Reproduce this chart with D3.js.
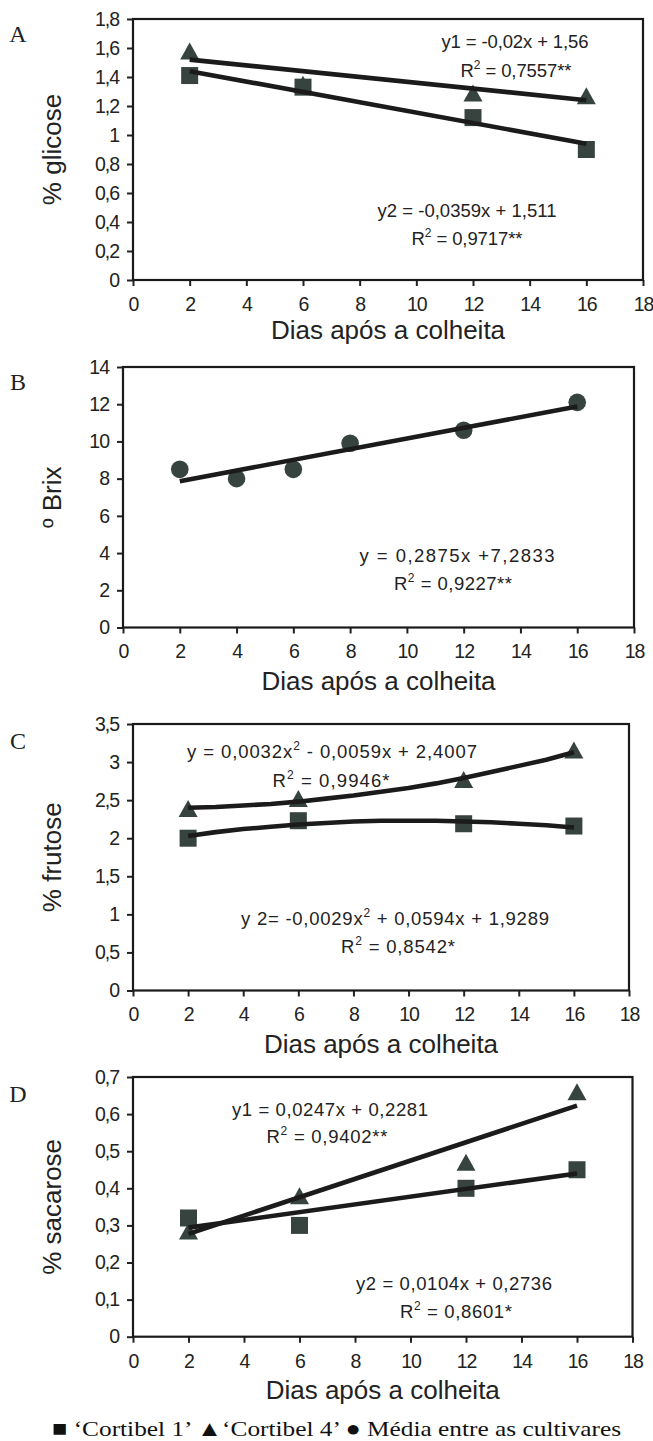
<!DOCTYPE html>
<html>
<head>
<meta charset="utf-8">
<script src="https://cdn.jsdelivr.net/npm/d3@7"></script>
<style>
  html, body { margin: 0; padding: 0; background: #fff; }
  svg { display: block; }
  .tick text { font-family: "Liberation Sans", Arial, sans-serif; font-size: 19.5px; letter-spacing: -1px; fill: #222; }
  .eq { font-family: "Liberation Sans", Arial, sans-serif; font-size: 18.5px; fill: #222; }
  .title { font-family: "Liberation Sans", Arial, sans-serif; font-size: 26px; fill: #222; }
  .letter { font-family: "Liberation Serif", "Times New Roman", serif; font-size: 24px; fill: #222; }
  .legend { font-family: "Liberation Serif", "Times New Roman", serif; font-size: 22px; fill: #111; }
</style>
</head>
<body>
<div id="chart"></div>
<script>
// days after harvest, shared x ticks
const xTicks = [0, 2, 4, 6, 8, 10, 12, 14, 16, 18];
const days = [2, 6, 12, 16];

// A - glicose
const glicoseC1 = [1.41, 1.33, 1.12, 0.90];
const glicoseC4 = [1.58, 1.35, 1.29, 1.27];
const glicoseTrendC1 = [1.44, 0.94];
const glicoseTrendC4 = [1.52, 1.24];
const glicoseTicks = [0, 0.2, 0.4, 0.6, 0.8, 1, 1.2, 1.4, 1.6, 1.8];

// B - brix (mean of cultivars)
const brixDays = [2, 4, 6, 8, 12, 16];
const brixMedia = [8.5, 8.0, 8.5, 9.9, 10.6, 12.1];
const brixTrend = [7.86, 11.88];
const brixTicks = [0, 2, 4, 6, 8, 10, 12, 14];

// C - frutose (quadratic trend)
const frutoseC1 = [2.00, 2.23, 2.19, 2.16];
const frutoseC4 = [2.39, 2.52, 2.77, 3.16];
const trendDays = [2, 3, 4, 5, 6, 7, 8, 9, 10, 11, 12, 13, 14, 15, 16];
const frutoseTrendC1 = [2.03, 2.08, 2.12, 2.15, 2.18, 2.20, 2.22, 2.23, 2.23, 2.23, 2.22, 2.21, 2.19, 2.17, 2.14];
const frutoseTrendC4 = [2.40, 2.41, 2.43, 2.45, 2.48, 2.52, 2.56, 2.61, 2.66, 2.72, 2.79, 2.87, 2.95, 3.03, 3.13];
const frutoseTicks = [0, 0.5, 1, 1.5, 2, 2.5, 3, 3.5];

// D - sacarose
const sacaroseC1 = [0.32, 0.30, 0.40, 0.45];
const sacaroseC4 = [0.285, 0.38, 0.47, 0.66];
const sacaroseTrendC1 = [0.294, 0.440];
const sacaroseTrendC4 = [0.277, 0.623];
const sacaroseTicks = [0, 0.1, 0.2, 0.3, 0.4, 0.5, 0.6, 0.7];

const W = 653, H = 1441;
const markerFill = "#37433f";
const lineColor = "#1b1b1b";

const svg = d3.select("#chart").append("svg")
    .attr("width", W).attr("height", H)
    .attr("viewBox", [0, 0, W, H]);
svg.append("rect").attr("width", W).attr("height", H).attr("fill", "#fff");

const fmt = v => String(+v.toFixed(2)).replace(".", ",");

/**
 * One panel: frame, axes, markers, trend lines and the texts.
 */
function panel(p) {
    const x = d3.scaleLinear().domain([0, 18]).range([p.left, p.right]);
    const y = d3.scaleLinear().domain([0, p.yMax]).range([p.bottom, p.top]);
    const g = svg.append("g");

    g.append("g")
        .attr("transform", `translate(0,${p.bottom})`)
        .call(d3.axisBottom(x).tickValues(xTicks).tickFormat(fmt).tickSize(6).tickSizeOuter(0).tickPadding(11))
        .call(a => a.select(".domain").remove())
        .call(a => a.selectAll("line").attr("stroke", "#222").attr("stroke-width", 2));

    g.append("g")
        .attr("transform", `translate(${p.left},0)`)
        .call(d3.axisLeft(y).tickValues(p.yTicks).tickFormat(fmt).tickSize(6).tickSizeOuter(0).tickPadding(8))
        .call(a => a.select(".domain").remove())
        .call(a => a.selectAll("line").attr("stroke", "#222").attr("stroke-width", 2));

    g.append("rect")
        .attr("x", p.left).attr("y", p.top)
        .attr("width", p.right - p.left).attr("height", p.bottom - p.top)
        .attr("fill", "none").attr("stroke", "#1a1a1a").attr("stroke-width", 2.2);

    // markers
    (p.triangles || []).forEach(s => {
        g.append("g").selectAll("path").data(s.x.map((d, i) => [d, s.y[i]])).join("path")
            .attr("d", d => { const cx = x(d[0]), cy = y(d[1]);
                return `M${cx},${cy - 8.5}L${cx + 9.5},${cy + 8.5}L${cx - 9.5},${cy + 8.5}Z`; })
            .attr("fill", markerFill);
    });
    (p.squares || []).forEach(s => {
        g.append("g").selectAll("rect").data(s.x.map((d, i) => [d, s.y[i]])).join("rect")
            .attr("x", d => x(d[0]) - 8.5).attr("y", d => y(d[1]) - 8.5)
            .attr("width", 17).attr("height", 17)
            .attr("fill", markerFill);
    });
    (p.circles || []).forEach(s => {
        g.append("g").selectAll("circle").data(s.x.map((d, i) => [d, s.y[i]])).join("circle")
            .attr("cx", d => x(d[0])).attr("cy", d => y(d[1])).attr("r", 8.8)
            .attr("fill", markerFill);
    });

    // trend lines on top
    const line = d3.line().x(d => x(d[0])).y(d => y(d[1]));
    p.trends.forEach(t => {
        g.append("path")
            .datum(t.x.map((d, i) => [d, t.y[i]]))
            .attr("d", line)
            .attr("fill", "none").attr("stroke", lineColor)
            .attr("stroke-width", 4.6).attr("stroke-linejoin", "round");
    });

    // equations: [before, superscript, after]
    p.eqs.forEach(e => {
        const t = g.append("text").attr("class", "eq")
            .attr("x", e.x).attr("y", e.y)
            .attr("text-anchor", "middle")
            .attr("textLength", e.w).attr("lengthAdjust", "spacing");
        t.append("tspan").text(e.t[0]);
        if (e.t[1]) {
            t.append("tspan").text(e.t[1]).attr("font-size", "12px").attr("dy", -8);
            t.append("tspan").text(e.t[2]).attr("dy", 8);
        }
    });

    // letter
    g.append("text").attr("class", "letter").attr("x", 18).attr("y", p.letterY)
        .attr("text-anchor", "middle").text(p.letter);

    // axis titles
    g.append("text").attr("class", "title")
        .attr("transform", `translate(61,${(p.top + p.bottom) / 2}) rotate(-90)`)
        .attr("text-anchor", "middle").text(p.yTitle);
    g.append("text").attr("class", "title")
        .attr("x", (p.left + p.right) / 2).attr("y", p.xTitleY)
        .attr("text-anchor", "middle").text("Dias após a colheita");
}

panel({
    left: 133, right: 643, top: 19, bottom: 280, yMax: 1.8, yTicks: glicoseTicks,
    letter: "A", letterY: 42, yTitle: "% glicose", xTitleY: 339,
    triangles: [{ x: days, y: glicoseC4 }],
    squares: [{ x: days, y: glicoseC1 }],
    trends: [{ x: [2, 16], y: glicoseTrendC4 }, { x: [2, 16], y: glicoseTrendC1 }],
    eqs: [
        { x: 515, y: 48, w: 147, t: ["y1 = -0,02x + 1,56"] },
        { x: 516, y: 77, w: 111, t: ["R", "2", " = 0,7557**"] },
        { x: 467, y: 217, w: 179, t: ["y2 = -0,0359x + 1,511"] },
        { x: 467, y: 245, w: 111, t: ["R", "2", " = 0,9717**"] }
    ]
});

panel({
    left: 123, right: 634, top: 367, bottom: 627.5, yMax: 14, yTicks: brixTicks,
    letter: "B", letterY: 390, yTitle: "º Brix", xTitleY: 690,
    circles: [{ x: brixDays, y: brixMedia }],
    trends: [{ x: [2, 16], y: brixTrend }],
    eqs: [
        { x: 457, y: 562, w: 195, t: ["y = 0,2875x +7,2833"] },
        { x: 453, y: 590, w: 118, t: ["R", "2", " = 0,9227**"] }
    ]
});

panel({
    left: 133, right: 629, top: 724, bottom: 990.5, yMax: 3.5, yTicks: frutoseTicks,
    letter: "C", letterY: 749, yTitle: "% frutose", xTitleY: 1053,
    triangles: [{ x: days, y: frutoseC4 }],
    squares: [{ x: days, y: frutoseC1 }],
    trends: [{ x: trendDays, y: frutoseTrendC4 }, { x: trendDays, y: frutoseTrendC1 }],
    eqs: [
        { x: 332, y: 758, w: 290, t: ["y = 0,0032x", "2", " - 0,0059x + 2,4007"] },
        { x: 331, y: 787, w: 117, t: ["R", "2", " = 0,9946*"] },
        { x: 395, y: 925, w: 308, t: ["y 2= -0,0029x", "2", " + 0,0594x + 1,9289"] },
        { x: 398, y: 953, w: 114, t: ["R", "2", " = 0,8542*"] }
    ]
});

panel({
    left: 133, right: 632.5, top: 1077, bottom: 1336.7, yMax: 0.7, yTicks: sacaroseTicks,
    letter: "D", letterY: 1102, yTitle: "% sacarose", xTitleY: 1399,
    triangles: [{ x: days, y: sacaroseC4 }],
    squares: [{ x: days, y: sacaroseC1 }],
    trends: [{ x: [2, 16], y: sacaroseTrendC4 }, { x: [2, 16], y: sacaroseTrendC1 }],
    eqs: [
        { x: 330, y: 1116, w: 196, t: ["y1 = 0,0247x + 0,2281"] },
        { x: 327, y: 1143, w: 121, t: ["R", "2", " = 0,9402**"] },
        { x: 454, y: 1290, w: 196, t: ["y2 = 0,0104x + 0,2736"] },
        { x: 456, y: 1318, w: 112, t: ["R", "2", " = 0,8601*"] }
    ]
});

// legend
svg.append("text").attr("class", "legend")
    .attr("x", 52).attr("y", 1436)
    .attr("textLength", 569).attr("lengthAdjust", "spacingAndGlyphs")
    .text("■ ‘Cortibel 1’ ▲‘Cortibel 4’ ● Média entre as cultivares");
</script>
</body>
</html>
